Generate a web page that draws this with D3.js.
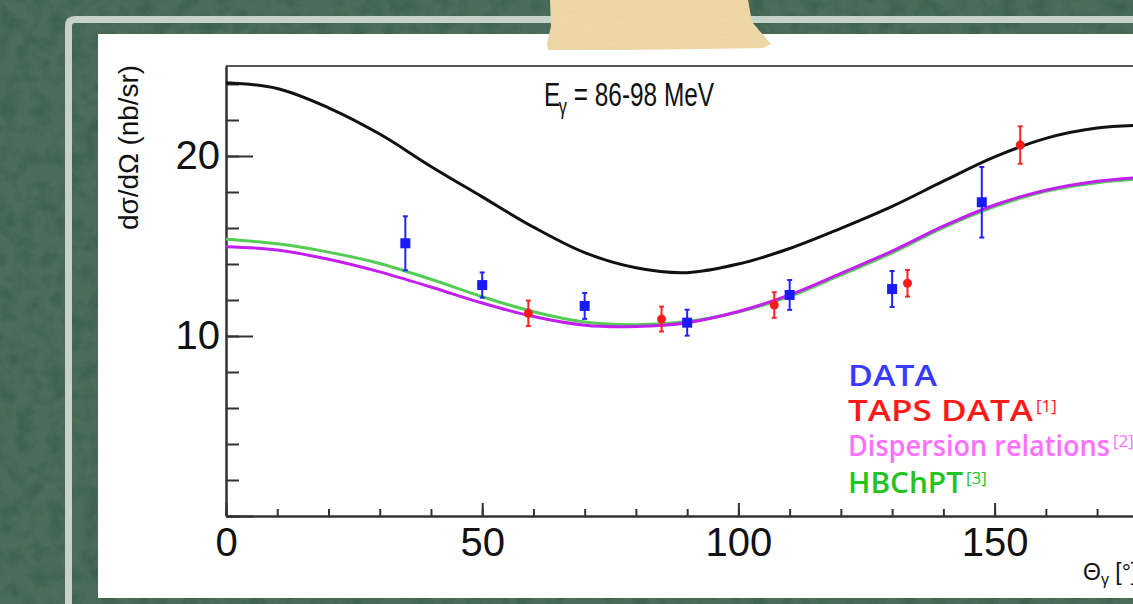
<!DOCTYPE html>
<html>
<head>
<meta charset="utf-8">
<script src="https://cdn.jsdelivr.net/npm/d3@7/dist/d3.min.js"></script>
<style>
    body { margin: 0; overflow: hidden; background: #486a57; }
    svg { display: block; }
</style>
</head>
<body>
<svg id="drawing_region"></svg>
<script>
// theory curves, sampled every 10 degrees
const angles = [0, 10, 20, 30, 40, 50, 60, 70, 80, 90, 100, 110, 120, 130, 140, 150, 160, 170, 180];
const curveBlack   = [24.07, 23.75, 22.68, 21.22, 19.42, 17.73, 16.05, 14.63, 13.79, 13.52, 14.0, 14.86, 15.98, 17.2, 18.6, 19.95, 20.98, 21.55, 21.72];
const curveDisp    = [14.96, 14.78, 14.26, 13.56, 12.72, 11.83, 11.08, 10.6, 10.53, 10.74, 11.36, 12.28, 13.48, 14.72, 16.1, 17.28, 18.1, 18.6, 18.84];
const curveHBChPT  = [15.37, 15.12, 14.66, 14.03, 13.15, 12.18, 11.35, 10.78, 10.63, 10.8, 11.33, 12.2, 13.39, 14.62, 16.02, 17.19, 18.04, 18.52, 18.74];

// measured points
const dataTheta = [35, 50, 70, 90, 110, 130, 147.5];
const dataValue = [15.15, 12.83, 11.67, 10.74, 12.28, 12.61, 17.43];
const dataError = [1.5, 0.7, 0.72, 0.72, 0.83, 1.0, 1.96];

const tapsTheta = [59, 85, 107, 133, 155];
const tapsValue = [11.26, 10.94, 11.72, 12.93, 20.61];
const tapsError = [0.71, 0.69, 0.71, 0.74, 1.04];

// axes
const xMajor = [0, 50, 100, 150];
const xMinor = [0, 10, 20, 30, 40, 50, 60, 70, 80, 90, 100, 110, 120, 130, 140, 150, 160, 170, 180];
const yMajor = [0, 10, 20];
const yMinor = [0, 2, 4, 6, 8, 10, 12, 14, 16, 18, 20, 22, 24];

const legendLabels = ["DATA", "TAPS DATA", "Dispersion relations", "HBChPT"];
const legendRefs   = ["", "[1]", "[2]", "[3]"];

const W = 1133, H = 604;
const svg = d3.select('#drawing_region').attr('width', W).attr('height', H);

// chalkboard texture
const defs = svg.append('defs');
const f = defs.append('filter').attr('id', 'chalk').attr('x', 0).attr('y', 0).attr('width', '100%').attr('height', '100%')
    .attr('color-interpolation-filters', 'sRGB');
f.append('feTurbulence').attr('type', 'fractalNoise').attr('baseFrequency', 0.06).attr('numOctaves', 4).attr('seed', 3);
f.append('feColorMatrix').attr('values', '0 0 0 0 0.22  0 0 0 0 0.36  0 0 0 0 0.29  2.4 0 0 0 -1.0');
const tf = defs.append('filter').attr('id', 'paper').attr('color-interpolation-filters', 'sRGB');
tf.append('feTurbulence').attr('type', 'fractalNoise').attr('baseFrequency', '0.02 0.6').attr('numOctaves', 2).attr('seed', 7);
tf.append('feColorMatrix').attr('values', '0 0 0 0 0.97  0 0 0 0 0.88  0 0 0 0 0.7  0 0 0 -1.2 0.95');
tf.append('feComposite').attr('in2', 'SourceGraphic').attr('operator', 'in');

svg.append('rect').attr('width', W).attr('height', H).attr('fill', '#4b6d59');
svg.append('rect').attr('width', W).attr('height', H).attr('filter', 'url(#chalk)').attr('opacity', 0.7);

// light frame stripe
svg.append('path')
    .attr('d', `M68.5,${H} L68.5,26 Q68.5,19.5 75,19.5 L${W},19.5`)
    .attr('fill', 'none').attr('stroke', '#c6d3cb').attr('stroke-width', 7);

// white sheet
svg.append('rect').attr('x', 98).attr('y', 34).attr('width', W - 98).attr('height', 564).attr('fill', '#fff');

// tape
const tapePts = [[550,0],[748,0],[752,22],[771,44],[763,48],[700,49],[620,50],[548,50],[547,44],[551,26]];
svg.append('polygon').attr('points', tapePts.map(p => p.join(',')).join(' ')).attr('fill', '#ecd4a4');
svg.append('polygon').attr('points', tapePts.map(p => p.join(',')).join(' ')).attr('fill', '#fff').attr('filter', 'url(#paper)').attr('opacity', 0.35);

// scales
const x = d3.scaleLinear().domain([0, 180]).range([226, 226 + 180 * 5.124]);
const y = d3.scaleLinear().domain([0, 25]).range([516, 66]);

const chart = svg.append('g');

// frame top line
chart.append('line').attr('x1', x(0)).attr('x2', x(180)).attr('y1', y(25)).attr('y2', y(25))
    .attr('stroke', '#555').attr('stroke-width', 2);

// y axis
const yMinorAxis = d3.axisLeft(y).tickValues(yMinor).tickSize(-13).tickSizeOuter(0).tickFormat('');
const yMajorAxis = d3.axisLeft(y).tickValues(yMajor).tickSize(-27).tickSizeOuter(0).tickPadding(6)
    .tickFormat(d => d === 0 ? '' : d);
chart.append('g').attr('transform', `translate(${x(0)},0)`).call(yMinorAxis);
chart.append('g').attr('transform', `translate(${x(0)},0)`).call(yMajorAxis);

// x axis
const xMinorAxis = d3.axisBottom(x).tickValues(xMinor).tickSize(-7).tickSizeOuter(0).tickFormat('');
const xMajorAxis = d3.axisBottom(x).tickValues(xMajor).tickSize(-13).tickSizeOuter(0).tickPadding(12);
chart.append('g').attr('transform', `translate(0,${y(0)})`).call(xMinorAxis);
chart.append('g').attr('transform', `translate(0,${y(0)})`).call(xMajorAxis);

chart.selectAll('.domain, .tick line').attr('stroke', '#333').attr('stroke-width', 2);
chart.selectAll('.tick text')
    .attr('font-family', 'Liberation Sans, Arial, sans-serif')
    .attr('font-size', 40).attr('fill', '#111');

// curves
const line = d3.line().x((d, i) => x(angles[i])).y(d => y(d)).curve(d3.curveCatmullRom);
chart.append('path').attr('d', line(curveBlack)).attr('fill', 'none').attr('stroke', '#111').attr('stroke-width', 3);
chart.append('path').attr('d', line(curveHBChPT)).attr('fill', 'none').attr('stroke', '#55cc55').attr('stroke-width', 3);
chart.append('path').attr('d', line(curveDisp)).attr('fill', 'none').attr('stroke', '#c21ff0').attr('stroke-width', 3);

// error bars + markers
function errorBars(xs, vs, es, color) {
    const g = chart.append('g').attr('stroke', color).attr('stroke-width', 2);
    xs.forEach((t, i) => {
        const cx = x(t), lo = y(vs[i] - es[i]), hi = y(vs[i] + es[i]);
        g.append('line').attr('x1', cx).attr('x2', cx).attr('y1', lo).attr('y2', hi);
        g.append('line').attr('x1', cx - 2.5).attr('x2', cx + 2.5).attr('y1', lo).attr('y2', lo);
        g.append('line').attr('x1', cx - 2.5).attr('x2', cx + 2.5).attr('y1', hi).attr('y2', hi);
    });
}
errorBars(dataTheta, dataValue, dataError, '#2222ff');
errorBars(tapsTheta, tapsValue, tapsError, '#ff2222');

chart.selectAll('rect.pt').data(dataTheta).enter().append('rect')
    .attr('x', d => x(d) - 5).attr('y', (d, i) => y(dataValue[i]) - 5)
    .attr('width', 10).attr('height', 10).attr('fill', '#1a1aff');
chart.selectAll('circle.pt').data(tapsTheta).enter().append('circle')
    .attr('cx', d => x(d)).attr('cy', (d, i) => y(tapsValue[i])).attr('r', 4.5).attr('fill', '#ff1a1a');

// titles
const title = svg.append('text')
    .attr('transform', 'translate(544,106) scale(0.74,1)')
    .attr('font-family', 'Liberation Sans, Arial, sans-serif').attr('font-size', 33).attr('fill', '#111');
title.append('tspan').text('E');
title.append('tspan').attr('font-size', 22).attr('dy', 8).attr('dx', -2).text('γ');
title.append('tspan').attr('dy', -8).text(' = 86-98 MeV');

svg.append('text')
    .attr('transform', 'translate(138,65) rotate(-90)')
    .attr('text-anchor', 'end')
    .attr('font-family', 'Liberation Sans, Arial, sans-serif').attr('font-size', 27).attr('fill', '#111')
    .attr('textLength', 165).attr('lengthAdjust', 'spacingAndGlyphs')
    .text('dσ/dΩ (nb/sr)');

const xt = svg.append('text').attr('x', 1083).attr('y', 580)
    .attr('font-family', 'Liberation Sans, Arial, sans-serif').attr('font-size', 23).attr('fill', '#111');
xt.append('tspan').text('Θ');
xt.append('tspan').attr('font-size', 16).attr('dy', 5).text('γ');
xt.append('tspan').attr('dy', -5).text(' [°]');

// handwritten legend
const legendColors = ['#3a3aff', '#ff1a1a', '#ff70ff', '#22c422'];
const legendWidths = [89, 185, 262, 115];
const legendBase = [386, 421, 456, 493];
legendLabels.forEach((lab, i) => {
    const t = svg.append('text').attr('x', 848).attr('y', legendBase[i])
        .attr('font-family', 'Open Sans, sans-serif').attr('font-weight', 600)
        .attr('font-size', 28).attr('fill', legendColors[i]);
    t.append('tspan').attr('textLength', legendWidths[i]).attr('lengthAdjust', 'spacingAndGlyphs').text(lab);
    if (legendRefs[i]) {
        t.append('tspan').attr('font-size', 17).attr('font-weight', 400).attr('dy', -9).attr('dx', 3).text(legendRefs[i]);
    }
});
</script>
</body>
</html>
